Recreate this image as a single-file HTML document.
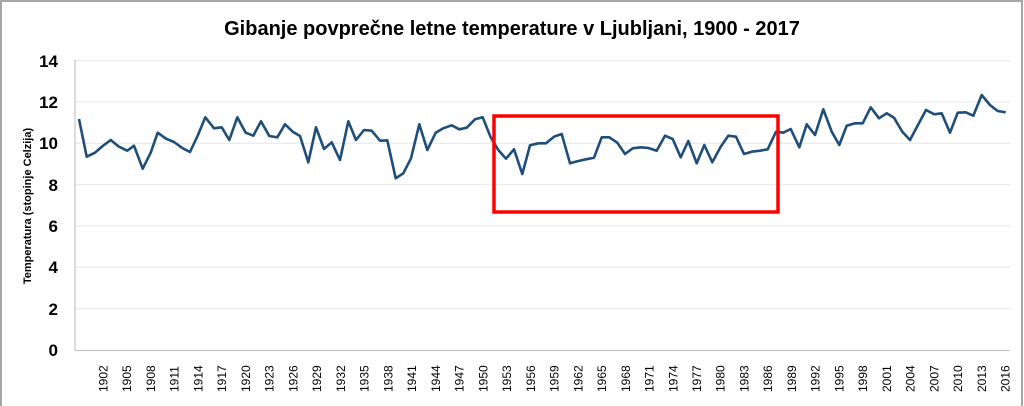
<!DOCTYPE html>
<html><head><meta charset="utf-8"><style>
html,body{margin:0;padding:0;background:#fff;}
svg{display:block;font-family:"Liberation Sans",Arial,sans-serif;}
</style></head><body>
<svg width="1024" height="406" viewBox="0 0 1024 406">
<rect x="1" y="1" width="1021" height="420" fill="#fff" stroke="#a6a6a6" stroke-width="2"/>
<text x="512" y="35" text-anchor="middle" font-size="20" font-weight="bold" fill="#000">Gibanje povprečne letne temperature v Ljubljani, 1900 - 2017</text>
<g stroke="#ececec" stroke-width="1.3">
<line x1="75" y1="60.7" x2="1010" y2="60.7"/>
<line x1="75" y1="102" x2="1010" y2="102"/>
<line x1="75" y1="143.3" x2="1010" y2="143.3"/>
<line x1="75" y1="184.6" x2="1010" y2="184.6"/>
<line x1="75" y1="225.9" x2="1010" y2="225.9"/>
<line x1="75" y1="267.2" x2="1010" y2="267.2"/>
<line x1="75" y1="308.5" x2="1010" y2="308.5"/>
</g>
<line x1="75" y1="60" x2="75" y2="350.5" stroke="#c8c8c8" stroke-width="1.3"/>
<line x1="75" y1="350.5" x2="1010" y2="350.5" stroke="#c8c8c8" stroke-width="1.3"/>
<g font-size="17" font-weight="bold" text-anchor="end" fill="#000">
<text x="58" y="67">14</text><text x="58" y="108">12</text><text x="58" y="149">10</text>
<text x="58" y="191">8</text><text x="58" y="232">6</text><text x="58" y="273">4</text>
<text x="58" y="315">2</text><text x="58" y="356">0</text>
</g>
<text transform="translate(31,206) rotate(-90)" text-anchor="middle" font-size="11" font-weight="bold">Temperatura (stopinje Celzija)</text>
<g font-size="12" fill="#000" id="xl"></g>
<polyline fill="none" stroke="#1f4e79" stroke-width="2.6" stroke-linejoin="round" points="79,119 86.7,156.7 95,152.7 102.7,146 110.7,140 119,146.7 127.3,150.7 134,145.7 142.7,168.7 150.7,152.7 157.7,132.7 166,138.7 174,142 182.7,148.3 190,152 198,135 205.3,117.3 214,128.3 221.7,127.3 229.3,140 237.3,117.3 245.7,132.7 253.3,135.7 261,121.3 269.3,136 277.3,137.3 285,124.3 292.7,131.7 300,136 308.3,162.3 316,127.3 324,149 331.7,142.3 340,160 348.3,121.3 356,140 364,130 371.7,130.7 380,140.7 387.3,140.3 395.7,178.3 403.3,173.3 411,158.3 419.3,124.3 427.3,150 435.7,132.7 443.3,128.3 451.7,125.3 459.3,129.3 466.7,127.7 475,119.3 482.7,117.3 490.7,137.3 498.3,150 506,158.7 514,149.3 522.3,174 530,145.3 538.3,143.3 546,143.3 554,136.7 561.7,134 570,163.3 578.3,161 586,159.3 594,157.7 601.7,137.3 609.3,137.3 617.3,142.7 625,154 632.7,148.3 640.7,147.3 648.3,148 656.7,150.7 665,135.7 672.7,139 680.7,157.3 688.3,141 696.7,163.3 704.3,145 712.3,162.3 720.7,146.7 728.3,135.7 736,136.7 744,154 751.7,151.7 760,150.7 767.7,149.3 776,131.7 783.3,132.7 790.7,129 799.3,147.3 806.7,124.3 815,135 823.3,109.3 831.7,131.7 839.3,145 846.7,125.7 855,123.3 862.7,123.3 870.7,107.3 879,118.3 886.7,113.3 894,117.7 902.3,131.7 910,140 918.3,124.3 926,110 934.3,114.3 941.7,113.3 950,132.7 957.7,112.7 965.7,112.3 973.3,115.7 981.7,95 990,105 997.7,111 1005.7,112.3"/>
<rect x="494" y="116" width="284" height="96" fill="none" stroke="#ff0000" stroke-width="3.5"/>
</svg>
<script>
var g=document.getElementById('xl');var s='';
for(var i=0;i<39;i++){var yr=1902+3*i;var x=103+i*23.74;
s+='<text transform="translate('+(x+4.5)+',392) rotate(-90)">'+yr+'</text>';}
g.innerHTML=s;
</script>
</body></html>
